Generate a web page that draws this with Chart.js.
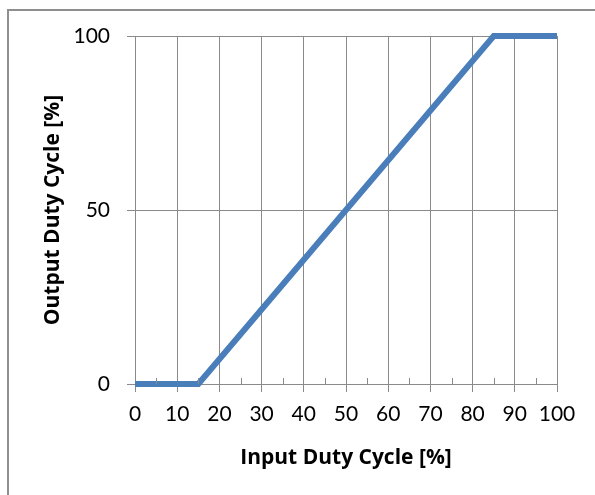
<!DOCTYPE html>
<html>
<head>
<meta charset="utf-8">
<script src="https://cdn.jsdelivr.net/npm/chart.js@4/dist/chart.umd.min.js"></script>
<style>
html,body{margin:0;padding:0;background:#fff;overflow:hidden;}
#wrap{position:relative;width:595px;height:495px;}
#frame{position:absolute;left:7px;top:9px;width:700px;height:600px;border:2px solid #8f8f8f;box-sizing:border-box;}
canvas{position:absolute;left:0;top:0;}
</style>
</head>
<body>
<div id="wrap">
<div id="frame"></div>
<canvas id="c" width="595" height="495"></canvas>
</div>
<script>
// Data
const inputDuty = [0, 15, 85, 100];
const outputDuty = [0, 0, 100, 100];
const xTicks = [0, 10, 20, 30, 40, 50, 60, 70, 80, 90, 100];
const yTicks = [0, 50, 100];
const xMinorTicks = [5, 15, 25, 35, 45, 55, 65, 75, 85, 95];

const FONT = "Lato, 'Liberation Sans', sans-serif";
const TFONT = "'Open Sans', Lato, sans-serif";
const GRID = '#8a8a8a';

const minorTickPlugin = {
  id: 'minorTicks',
  afterDraw(chart) {
    const xs = chart.scales.x, ys = chart.scales.y;
    const ctx = chart.ctx;
    const y0 = ys.getPixelForValue(0);
    ctx.save();
    ctx.strokeStyle = GRID;
    ctx.lineWidth = 1;
    xMinorTicks.forEach(v => {
      const px = Math.round(xs.getPixelForValue(v)) + 0.5;
      ctx.beginPath();
      ctx.moveTo(px, y0);
      ctx.lineTo(px, y0 - 6);
      ctx.stroke();
    });
    ctx.restore();
  }
};

new Chart(document.getElementById('c'), {
  type: 'scatter',
  data: {
    datasets: [{
      data: inputDuty.map((x, i) => ({x: x, y: outputDuty[i]})),
      showLine: true,
      borderColor: '#4a7ebb',
      borderWidth: 6,
      pointRadius: 0,
      borderCapStyle: 'butt',
      borderJoinStyle: 'miter',
      tension: 0,
      clip: false
    }]
  },
  options: {
    responsive: false,
    animation: false,
    devicePixelRatio: 1,
    layout: {padding: {left: 40, right: 38, top: 36, bottom: 24}},
    plugins: {legend: {display: false}, tooltip: {enabled: false}},
    scales: {
      x: {
        type: 'linear', min: 0, max: 100,
        afterBuildTicks(s) { s.ticks = xTicks.map(v => ({value: v})); },
        afterFit(s) { s.height = 87; },
        grid: {color: GRID, lineWidth: 1, tickLength: 8, drawTicks: true},
        border: {color: GRID, width: 1},
        ticks: {color: '#000', font: {family: FONT, size: 21}, padding: 10, maxRotation: 0, autoSkip: false},
        title: {display: true, text: 'Input Duty Cycle [%]', color: '#000', font: {family: TFONT, size: 21, weight: 'bold'}, padding: 0}
      },
      y: {
        type: 'linear', min: 0, max: 100,
        afterBuildTicks(s) { s.ticks = yTicks.map(v => ({value: v})); },
        afterFit(s) { s.width = 95; },
        grid: {color: GRID, lineWidth: 1, tickLength: 8, drawTicks: true},
        border: {display: false},
        ticks: {color: '#000', font: {family: FONT, size: 21}, padding: 17},
        title: {display: true, text: 'Output Duty Cycle [%]', color: '#000', font: {family: TFONT, size: 21, weight: 'bold'}, padding: 0}
      }
    }
  },
  plugins: [minorTickPlugin]
});
</script>
</body>
</html>
